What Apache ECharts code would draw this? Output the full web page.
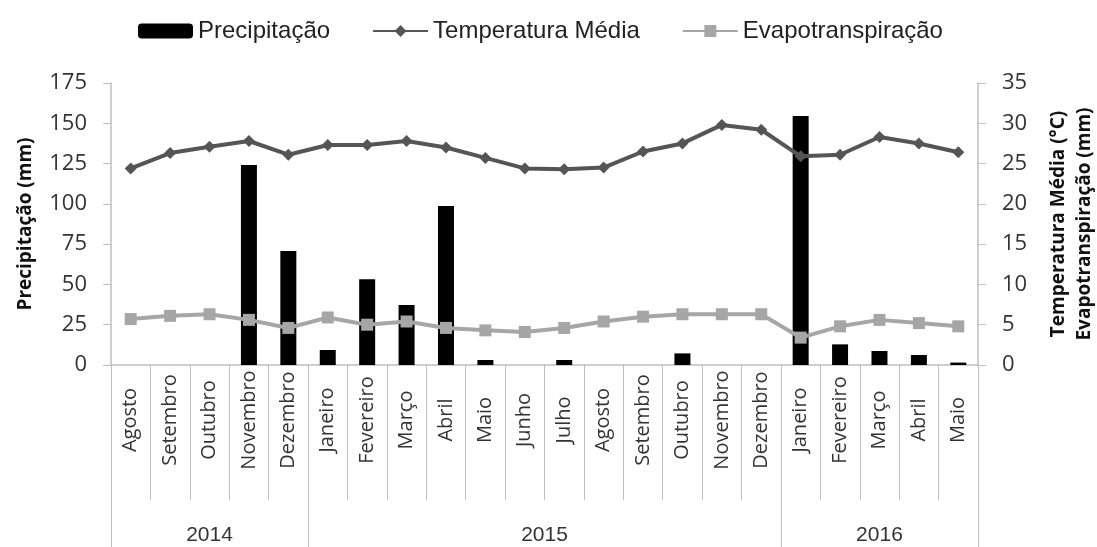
<!DOCTYPE html>
<html>
<head>
<meta charset="utf-8">
<script src="https://cdn.jsdelivr.net/npm/echarts@6/dist/echarts.min.js"></script>
<style>
  html, body { margin: 0; padding: 0; background: #fff; }
  #chart { width: 1097px; height: 547px; }
</style>
</head>
<body>
<div id="chart"></div>
<script>
// meses (ago/2014 a mai/2016)
var months = ['Agosto', 'Setembro', 'Outubro', 'Novembro', 'Dezembro',
  'Janeiro', 'Fevereiro', 'Março', 'Abril', 'Maio', 'Junho', 'Julho',
  'Agosto', 'Setembro', 'Outubro', 'Novembro', 'Dezembro',
  'Janeiro', 'Fevereiro', 'Março', 'Abril', 'Maio']
var years = ['2014', '2015', '2016']
var monthsPerYear = [5, 12, 5]

var precipitacao = [0, 0, 0, 124.1, 70.8, 9.3, 53.2, 37.2, 98.7, 3.1, 0, 3.1,
  0, 0, 7.2, 0, 0, 154.5, 12.8, 8.7, 6.2, 1.5]
var temperatura = [24.4, 26.3, 27.1, 27.8, 26.1, 27.3, 27.3, 27.8, 27.0, 25.7, 24.4, 24.3,
  24.5, 26.5, 27.5, 29.8, 29.2, 25.9, 26.1, 28.3, 27.5, 26.4]
var evapotranspiracao = [5.7, 6.1, 6.3, 5.6, 4.6, 5.9, 5.0, 5.4, 4.6, 4.3, 4.1, 4.6,
  5.4, 6.0, 6.3, 6.3, 6.3, 3.4, 4.8, 5.6, 5.2, 4.8]

// limites e centros dos anos, em meses
var yearBounds = [0]
var yearCenters = []
var acc = 0
years.forEach(function(y, i) {
  yearCenters.push(acc + monthsPerYear[i] / 2)
  acc += monthsPerYear[i]
  yearBounds.push(acc)
})

var chart = echarts.init(document.getElementById('chart'))
var gray = '#bfbfbf'

chart.setOption({
  animation: false,
  textStyle: { fontFamily: 'Open Sans' },
  legend: {
    top: 14,
    left: 133,
    itemGap: 42,
    itemWidth: 55,
    itemHeight: 15,
    textStyle: { fontSize: 24, color: '#222', fontFamily: 'Liberation Sans Narrow, Liberation Sans' },
    data: ['Precipitação', 'Temperatura Média', 'Evapotranspiração']
  },
  grid: {
    left: 111,
    right: 119,
    top: 83,
    bottom: 182,
    outerBoundsMode: 'none'
  },
  xAxis: [{
    type: 'category',
    data: months,
    axisLine: { lineStyle: { color: gray, width: 1.5 } },
    axisTick: { show: true, length: 135, lineStyle: { color: gray } },
    axisLabel: {
      rotate: 90,
      align: 'center',
      verticalAlign: 'middle',
      margin: 55,
      interval: 0,
      fontSize: 20,
      color: '#333'
    }
  }, {
    // anos: separadores longos e rótulos centrados em cada ano
    type: 'value',
    position: 'bottom',
    min: 0,
    max: months.length,
    axisLine: { show: false },
    splitLine: { show: false },
    axisTick: {
      show: true,
      length: 182,
      customValues: yearBounds,
      lineStyle: { color: gray }
    },
    axisLabel: {
      customValues: yearCenters,
      formatter: function(v) { return years[yearCenters.indexOf(v)] || '' },
      margin: 160,
      fontSize: 21,
      color: '#333',
      fontFamily: 'Liberation Sans Narrow, Liberation Sans'
    }
  }],
  yAxis: [{
    type: 'value',
    min: 0,
    max: 175,
    interval: 25,
    name: 'Precipitação (mm)',
    nameLocation: 'middle',
    nameGap: 76,
    nameTextStyle: { fontSize: 19, fontWeight: 'bold', color: '#111' },
    splitLine: { show: false },
    axisLine: { show: true, lineStyle: { color: gray, width: 1.5 } },
    axisTick: { show: true, length: 8, lineStyle: { color: gray } },
    axisLabel: { fontSize: 22, color: '#333', margin: 24 }
  }, {
    type: 'value',
    min: 0,
    max: 35,
    interval: 5,
    position: 'right',
    name: 'Temperatura Média (°C)\nEvapotranspiração (mm)',
    nameLocation: 'middle',
    nameGap: 68,
    nameTextStyle: { fontSize: 19, fontWeight: 'bold', color: '#111', lineHeight: 26 },
    splitLine: { show: false },
    axisLine: { show: true, lineStyle: { color: gray, width: 1.5 } },
    axisTick: { show: true, length: 8, lineStyle: { color: gray } },
    axisLabel: { fontSize: 22, color: '#333', margin: 24 }
  }],
  series: [{
    name: 'Precipitação',
    type: 'bar',
    data: precipitacao,
    barWidth: 16,
    itemStyle: { color: '#000' }
  }, {
    name: 'Temperatura Média',
    type: 'line',
    yAxisIndex: 1,
    data: temperatura,
    symbol: 'diamond',
    symbolSize: 12,
    lineStyle: { color: '#555', width: 4 },
    itemStyle: { color: '#555' }
  }, {
    name: 'Evapotranspiração',
    type: 'line',
    yAxisIndex: 1,
    data: evapotranspiracao,
    symbol: 'rect',
    symbolSize: 12,
    lineStyle: { color: '#a6a6a6', width: 4 },
    itemStyle: { color: '#a6a6a6' }
  }]
})
</script>
</body>
</html>
